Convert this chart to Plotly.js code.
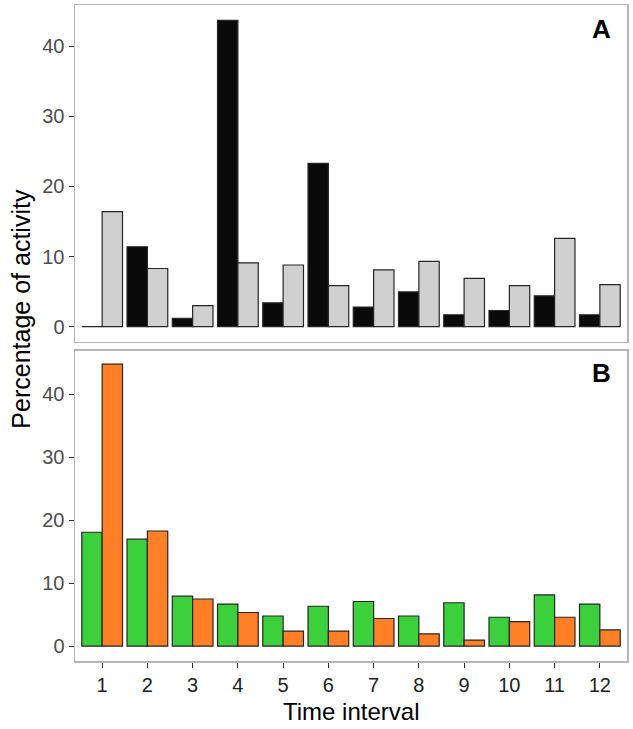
<!DOCTYPE html>
<html>
<head>
<meta charset="utf-8">
<script src="https://cdn.plot.ly/plotly-3.0.1.min.js"></script>
<style>html,body{margin:0;padding:0;background:#fff;}#chart{width:633px;height:729px;}</style>
</head>
<body>
<div id="chart"></div>
<script>
// Data
const intervals = [1, 2, 3, 4, 5, 6, 7, 8, 9, 10, 11, 12];
const tickLabels = ['1', '2', '3', '4', '5', '6', '7', '8', '9', '10', '11', '12'];
const panelA_black = [0, 11.4, 1.2, 43.7, 3.4, 23.3, 2.8, 4.95, 1.7, 2.3, 4.4, 1.7];
const panelA_grey  = [16.4, 8.3, 3.0, 9.1, 8.8, 5.85, 8.1, 9.3, 6.9, 5.85, 12.6, 6.0];
const panelB_green = [18.1, 17.0, 7.95, 6.7, 4.8, 6.35, 7.1, 4.8, 6.9, 4.6, 8.15, 6.7];
const panelB_orange= [44.8, 18.3, 7.5, 5.35, 2.4, 2.4, 4.4, 1.96, 0.95, 3.9, 4.6, 2.6];
const yTicks = [0, 10, 20, 30, 40];

const outline = {color: '#262626', width: 1.2};
const traces = [
  {type: 'bar', x: intervals, y: panelA_black, xaxis: 'x', yaxis: 'y',
   marker: {color: '#0a0a0a', line: outline}, offsetgroup: 'a1', hoverinfo: 'x+y'},
  {type: 'bar', x: intervals, y: panelA_grey, xaxis: 'x', yaxis: 'y',
   marker: {color: '#d0d0d0', line: outline}, offsetgroup: 'a2', hoverinfo: 'x+y'},
  {type: 'bar', x: intervals, y: panelB_green, xaxis: 'x2', yaxis: 'y2',
   marker: {color: '#3cd03c', line: outline}, offsetgroup: 'b1', hoverinfo: 'x+y'},
  {type: 'bar', x: intervals, y: panelB_orange, xaxis: 'x2', yaxis: 'y2',
   marker: {color: '#ff7f27', line: outline}, offsetgroup: 'b2', hoverinfo: 'x+y'}
];

const fontFam = 'Arial, "Liberation Sans", sans-serif';
const tickFont = {family: fontFam, size: 20, color: '#4d4d4d'};
const borderColor = '#b5b5b5';

const layout = {
  width: 633, height: 729,
  margin: {l: 75, r: 6, t: 5, b: 68},
  paper_bgcolor: '#ffffff', plot_bgcolor: '#ffffff',
  showlegend: false,
  barmode: 'group', bargap: 0.1, bargroupgap: 0,
  font: {family: fontFam},
  xaxis: {
    domain: [0, 1], anchor: 'y', range: [0.4, 12.6],
    showticklabels: false, ticks: '', showgrid: false, zeroline: false,
    showline: true, mirror: true, linecolor: borderColor, linewidth: 1.5
  },
  yaxis: {
    domain: [0.4863, 1], anchor: 'x', range: [-2.19, 45.9],
    tickvals: yTicks, ticktext: yTicks.map(String),
    ticks: 'outside', ticklen: 5, tickcolor: '#333333', tickwidth: 1,
    tickfont: tickFont, showgrid: false, zeroline: false,
    showline: true, mirror: true, linecolor: borderColor, linewidth: 1.5
  },
  xaxis2: {
    domain: [0, 1], anchor: 'y2', range: [0.4, 12.6],
    tickvals: intervals, ticktext: tickLabels,
    ticks: 'outside', ticklen: 5, tickcolor: '#333333', tickwidth: 1,
    tickfont: {family: fontFam, size: 20, color: '#222222'},
    showgrid: false, zeroline: false,
    showline: true, mirror: true, linecolor: borderColor, linewidth: 1.5
  },
  yaxis2: {
    domain: [0, 0.4726], anchor: 'x2', range: [-2.35, 46.9],
    tickvals: yTicks, ticktext: yTicks.map(String),
    ticks: 'outside', ticklen: 5, tickcolor: '#333333', tickwidth: 1,
    tickfont: tickFont, showgrid: false, zeroline: false,
    showline: true, mirror: true, linecolor: borderColor, linewidth: 1.5
  },
  annotations: [
    {text: '<b>A</b>', xref: 'x domain', yref: 'y domain', x: 0.975, y: 0.98,
     xanchor: 'right', yanchor: 'top', showarrow: false,
     font: {family: fontFam, size: 26, color: '#000000'}},
    {text: '<b>B</b>', xref: 'x2 domain', yref: 'y2 domain', x: 0.975, y: 0.985,
     xanchor: 'right', yanchor: 'top', showarrow: false,
     font: {family: fontFam, size: 26, color: '#000000'}},
    {text: 'Percentage of activity', xref: 'paper', yref: 'paper', x: -0.098, y: 0.537,
     xanchor: 'center', yanchor: 'middle', textangle: -90, showarrow: false,
     font: {family: fontFam, size: 25, color: '#000000'}},
    {text: 'Time interval', xref: 'paper', yref: 'paper', x: 0.5, y: -0.077,
     xanchor: 'center', yanchor: 'middle', showarrow: false,
     font: {family: fontFam, size: 24, color: '#000000'}}
  ]
};

Plotly.newPlot('chart', traces, layout, {displayModeBar: false, staticPlot: true});
</script>
</body>
</html>
